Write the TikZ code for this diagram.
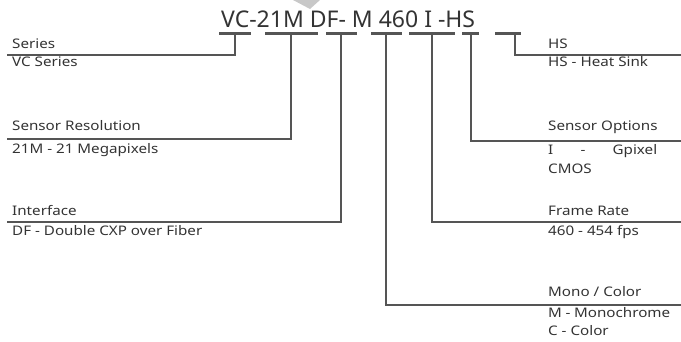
\documentclass[tikz,border=0pt]{standalone}
\usepackage{fontspec}
\setmainfont{Noto Sans}
\newfontfamily\lblfont[FakeStretch=1.15]{Noto Sans}
\definecolor{txt}{HTML}{333333}
\definecolor{ln}{HTML}{555555}
\definecolor{markgrey}{HTML}{C8C8C8}
\begin{document}
\begin{tikzpicture}[x=1pt,y=-1pt,
  lbl/.style={anchor=base west, inner sep=0pt, text=txt, font=\lblfont\fontsize{13.2}{15}\selectfont},
  bar/.style={draw=ln, line width=3pt},
  lead/.style={draw=ln, line width=2pt}]
\useasboundingbox (0,0) rectangle (681,342);
% grey marker at top
\fill[markgrey] (293,0) -- (310,9) -- (320,0) -- cycle;
% title
\node[anchor=base west, inner sep=0pt, text=txt, font=\fontsize{23}{27}\selectfont] (title) at (221,28) {VC-21M DF- M 460 I -HS};
% bars
\draw[bar] (219,34) -- (251,34);
\draw[bar] (265,34) -- (318,34);
\draw[bar] (326,34) -- (357,34);
\draw[bar] (371,34) -- (402,34);
\draw[bar] (409,34) -- (455,34);
\draw[bar] (462,34) -- (479,34);
\draw[bar] (495,34) -- (521,34);
% bar anchors
\coordinate (b1) at (235,34);
\coordinate (b2) at (291,34);
\coordinate (b3) at (341,34);
\coordinate (b4) at (386,34);
\coordinate (b5) at (432,34);
\coordinate (b6) at (471,34);
\coordinate (b7) at (515,34);
% line ends
\coordinate (e1) at (7,55.5);
\coordinate (e2) at (7,139);
\coordinate (e3) at (7,222);
\coordinate (e4) at (681,305);
\coordinate (e5) at (681,222);
\coordinate (e6) at (681,141);
\coordinate (e7) at (681,55.5);
% leaders
\draw[lead] (b1) |- (e1);
\draw[lead] (b2) |- (e2);
\draw[lead] (b3) |- (e3);
\draw[lead] (b4) |- (e4);
\draw[lead] (b5) |- (e5);
\draw[lead] (b6) |- (e6);
\draw[lead] (b7) |- (e7);
% left labels
\node[lbl] (l1a) at (12,49) {Series};
\node[lbl] (l1b) at (12,67) {VC Series};
\node[lbl] (l2a) at (12,131) {Sensor Resolution};
\node[lbl] (l2b) at (12,153.5) {21M - 21 Megapixels};
\node[lbl] (l3a) at (12,215.5) {Interface};
\node[lbl] (l3b) at (12,236) {DF - Double CXP over Fiber};
% right labels
\node[lbl] (r7a) at (548,49) {HS};
\node[lbl] (r7b) at (548,67) {HS - Heat Sink};
\node[lbl] (r6a) at (548,131) {Sensor Options};
\node[lbl] (r6b) at (548,154.5) {\makebox[109pt][s]{I\hfill-\hfill Gpixel}};
\node[lbl] (r6c) at (548,173.5) {CMOS};
\node[lbl] (r5a) at (548,215.5) {Frame Rate};
\node[lbl] (r5b) at (548,236) {460 - 454 fps};
\node[lbl] (r4a) at (548,297) {Mono / Color};
\node[lbl] (r4b) at (548,317.5) {\makebox[122pt][s]{M\hfill-\hfill Monochrome}};
\node[lbl] (r4c) at (548,335.5) {C - Color};
\end{tikzpicture}
\end{document}
